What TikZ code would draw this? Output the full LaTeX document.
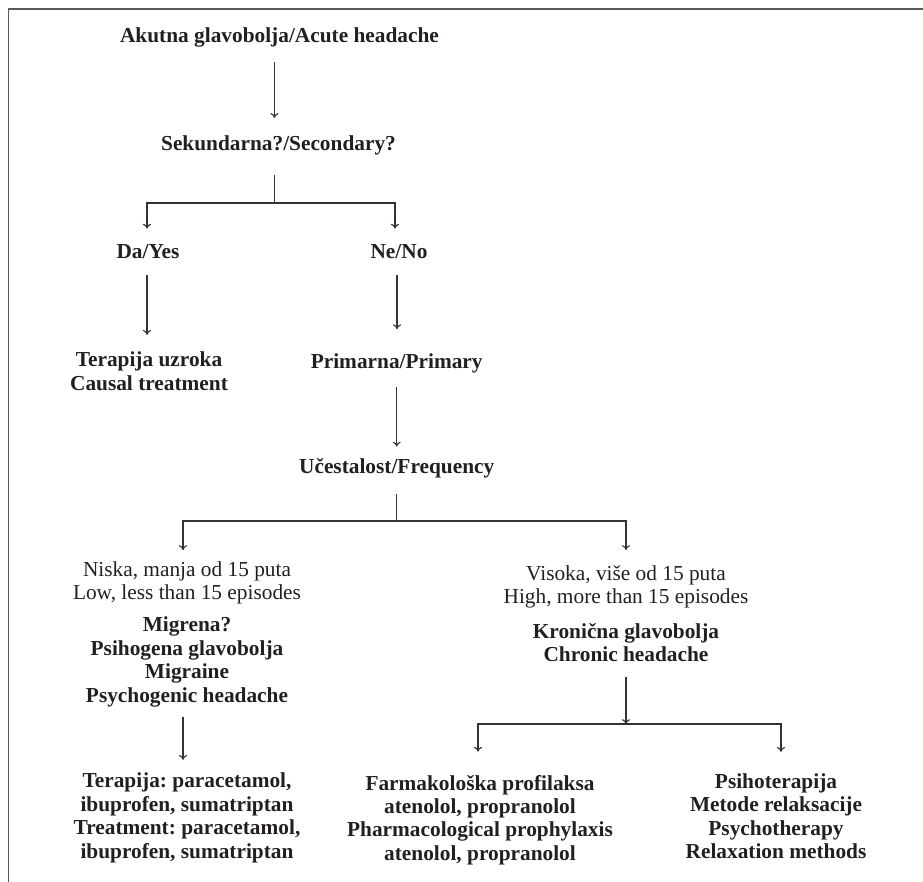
\documentclass[tikz,border=0pt]{standalone}
\usepackage{fontspec}
\setmainfont{Liberation Serif}
\usepackage{tikz}
\usetikzlibrary{arrows.meta,calc,positioning}
\definecolor{rahmen}{HTML}{5A5A5A}
\definecolor{strich}{HTML}{333333}
\definecolor{schrift}{HTML}{231F20}
\frenchspacing

\begin{document}
\begin{tikzpicture}[x=0.75pt,y=-0.75pt,
  txt/.style={font=\fontsize{16}{17.6}\selectfont,inner sep=0pt,outer sep=0pt,align=center,text=schrift},
  fett/.style={txt,font=\fontsize{16}{17.6}\selectfont\bfseries},
  linie/.style={draw=strich,line width=0.85pt},
  pfeil/.style={linie,-{To[length=3.6pt,width=6pt]}}]
%Koordinaten in Pixeln des Originals, y nach unten
\useasboundingbox (0,0) rectangle (923,881);
\draw[rahmen,line width=1.1pt] (925,9) -- (8.3,9) -- (8.3,883);
%Gabelpunkte
\coordinate (gabel1) at (274.5,203);
\coordinate (gabel2) at (396.5,521);
\coordinate (gabel3) at (626,724);
\node[fett,anchor=base] (titel) at (279.5,43) {Akutna glavobolja/Acute headache};
\node[fett,anchor=base] (sek) at (278.5,150) {Sekundarna?/Secondary?};
\node[fett,anchor=base] (da) at (148,258) {Da/Yes};
\node[fett,anchor=base] (ne) at (399,258) {Ne/No};
\node[fett] (uzrok) at (149,371.4) {Terapija uzroka\\Causal treatment};
\node[fett,anchor=base] (prim) at (396.7,368) {Primarna/Primary};
\node[fett,anchor=base] (ucest) at (396.7,473.5) {Učestalost/Frequency};
\node[txt] (niska) at (187,582.8) {Niska, manja od 15 puta\\Low, less than 15 episodes};
\node[fett] (migr) at (187,662) {Migrena?\\Psihogena glavobolja\\Migraine\\Psychogenic headache};
\node[fett] (terap) at (187,818) {Terapija: paracetamol,\\ibuprofen, sumatriptan\\Treatment: paracetamol,\\ibuprofen, sumatriptan};
\node[txt] (visoka) at (626,586.8) {Visoka, više od 15 puta\\High, more than 15 episodes};
\node[fett] (kron) at (626,642.4) {Kronična glavobolja\\Chronic headache};
\node[fett] (farm) at (480,820) {Farmakološka profilaksa\\atenolol, propranolol\\Pharmacological prophylaxis\\atenolol, propranolol};
\node[fett] (psiho) at (776,816.4) {Psihoterapija\\Metode relaksacije\\Psychotherapy\\Relaxation methods};
%Verbindungen
\draw[pfeil,shorten <=11pt,shorten >=13pt] (titel.south -| gabel1) -- (sek.north -| gabel1);
\draw[linie,shorten <=15.5pt] (sek.south -| gabel1) -- (gabel1);
\draw[pfeil,shorten >=11.5pt] (gabel1) -| ([xshift=-0.75pt]da.north);
\draw[pfeil,shorten >=11.5pt] (gabel1) -| ([xshift=-3pt]ne.north);
\draw[pfeil,shorten <=12.5pt,shorten >=13pt] ([xshift=-0.75pt]da.south) -- ([xshift=-0.75pt]da.south |- uzrok.north);
\draw[pfeil,shorten <=12.5pt,shorten >=18pt] ([xshift=-1.5pt]ne.south) -- ([xshift=-1.5pt]ne.south |- prim.north);
\draw[pfeil,shorten <=11pt,shorten >=9pt] (prim.south) -- (ucest.north);
\draw[linie,shorten <=11.7pt] (ucest.south -| gabel2) -- (gabel2);
\draw[pfeil,shorten >=8.5pt] (gabel2) -| ([xshift=-3pt]niska.north);
\draw[pfeil,shorten >=11.5pt] (gabel2) -| (visoka.north);
\draw[pfeil,shorten <=7.5pt,shorten >=10pt] ([xshift=-3pt]migr.south) -- ([xshift=-3pt]migr.south |- terap.north);
\draw[pfeil,shorten <=11.6pt] (kron.south) -- (gabel3);
\draw[pfeil,shorten >=17.5pt] (gabel3) -| ([xshift=-1.5pt]farm.north);
\draw[pfeil,shorten >=16.4pt] (gabel3) -| ([xshift=3.75pt]psiho.north);
\end{tikzpicture}
\end{document}
